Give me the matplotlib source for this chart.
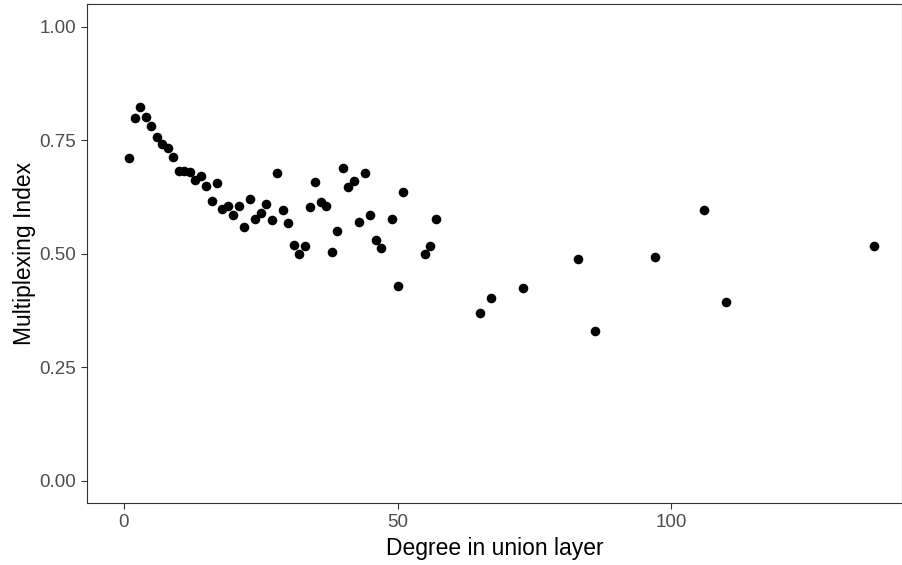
import matplotlib
matplotlib.use("Agg")
import matplotlib.pyplot as plt

plt.rcParams['font.family'] = ['Liberation Sans', 'DejaVu Sans']

# degree in union layer vs multiplexing index
degree = [1, 2, 3, 4, 5, 6, 7, 8, 9, 10, 11, 12, 13, 14, 15, 16, 17, 18, 19, 20,
          21, 22, 23, 24, 25, 26, 27, 28, 29, 30, 31, 32, 33, 34, 35, 36, 37, 38,
          39, 40, 41, 42, 43, 44, 45, 46, 47, 49, 50, 51, 55, 56, 57, 65, 67, 73,
          83, 86, 97, 106, 110, 137]
mplex = [0.710, 0.799, 0.823, 0.802, 0.781, 0.758, 0.742, 0.732, 0.714, 0.682,
         0.682, 0.680, 0.662, 0.672, 0.650, 0.617, 0.655, 0.599, 0.604, 0.586,
         0.604, 0.558, 0.621, 0.577, 0.590, 0.610, 0.574, 0.678, 0.597, 0.567,
         0.519, 0.499, 0.518, 0.603, 0.657, 0.614, 0.604, 0.503, 0.550, 0.688,
         0.646, 0.660, 0.570, 0.677, 0.586, 0.530, 0.513, 0.577, 0.428, 0.637,
         0.499, 0.518, 0.577, 0.369, 0.403, 0.424, 0.488, 0.329, 0.492, 0.596,
         0.393, 0.516]

xticks = [0, 50, 100]
yticks = [0.00, 0.25, 0.50, 0.75, 1.00]

W, H = 902, 565
fig = plt.figure(figsize=(W / 100, H / 100), dpi=100)
left, right, top, bottom = 87, 902, 4, 503
ax = fig.add_axes([left / W, (H - bottom) / H, (right - left) / W, (bottom - top) / H])

ax.scatter(degree, mplex, s=48, color='black', linewidths=0, zorder=3)

ax.set_xlim(-6.76, 142.2)
ax.set_ylim(-0.0492, 1.0501)
ax.set_xticks(xticks)
ax.set_xticklabels([str(t) for t in xticks])
ax.set_yticks(yticks)
ax.set_yticklabels([f'{t:.2f}' for t in yticks])

for s in ax.spines.values():
    s.set_color('#333333')
    s.set_linewidth(0.8)
ax.tick_params(axis='both', colors='#333333', length=4, width=0.8,
               labelsize=13.5, labelcolor='#4D4D4D', pad=4)

ax.set_xlabel('Degree in union layer', fontsize=16.5, color='black', labelpad=4)
ax.set_ylabel('Multiplexing Index', fontsize=16.5, color='black', labelpad=2)

fig.savefig('out.png', dpi=100)
